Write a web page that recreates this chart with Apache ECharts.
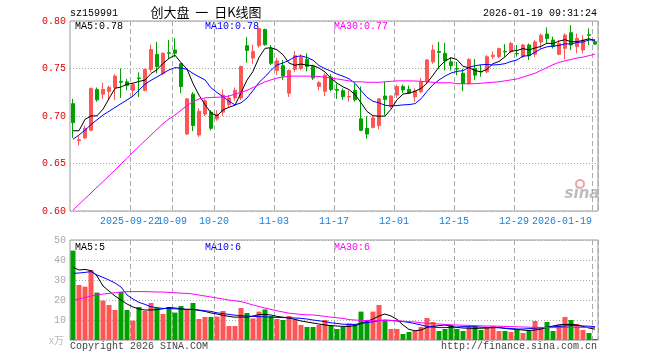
<!DOCTYPE html>
<html><head><meta charset="utf-8">
<script src="https://cdn.jsdelivr.net/npm/echarts@6/dist/echarts.min.js"></script>
<style>html,body{margin:0;padding:0;background:#fff}#c{width:660px;height:360px}</style>
</head><body><div id="c"></div>
<script>
// ---------------- data ----------------
const dates = [
'2025-09-08','2025-09-09','2025-09-10','2025-09-11','2025-09-12','2025-09-15','2025-09-16','2025-09-17','2025-09-18','2025-09-19',
'2025-09-22','2025-09-23','2025-09-24','2025-09-25','2025-09-26','2025-09-29','2025-09-30','2025-10-09','2025-10-10','2025-10-13',
'2025-10-14','2025-10-15','2025-10-16','2025-10-17','2025-10-20','2025-10-21','2025-10-22','2025-10-23','2025-10-24','2025-10-27',
'2025-10-28','2025-10-29','2025-10-30','2025-10-31','2025-11-03','2025-11-04','2025-11-05','2025-11-06','2025-11-07','2025-11-10',
'2025-11-11','2025-11-12','2025-11-13','2025-11-14','2025-11-17','2025-11-18','2025-11-19','2025-11-20','2025-11-21','2025-11-24',
'2025-11-25','2025-11-26','2025-11-27','2025-11-28','2025-12-01','2025-12-02','2025-12-03','2025-12-04','2025-12-05','2025-12-08',
'2025-12-09','2025-12-10','2025-12-11','2025-12-12','2025-12-15','2025-12-16','2025-12-17','2025-12-18','2025-12-19','2025-12-22',
'2025-12-23','2025-12-24','2025-12-25','2025-12-26','2025-12-29','2025-12-30','2025-12-31','2026-01-05','2026-01-06','2026-01-07',
'2026-01-08','2026-01-09','2026-01-12','2026-01-13','2026-01-14','2026-01-15','2026-01-16','2026-01-19'];

const openP = [
0.713,0.674,0.677,0.685,0.728,0.723,0.726,0.730,0.7365,0.736,
0.727,0.740,0.727,0.749,0.765,0.745,0.7665,0.7695,0.755,0.681,
0.723,0.680,0.702,0.704,0.697,0.704,0.712,0.719,0.719,0.774,
0.761,0.774,0.791,0.771,0.748,0.753,0.724,0.749,0.750,0.7596,
0.752,0.731,0.726,0.741,0.728,0.7266,0.720,0.727,0.697,0.687,
0.688,0.690,0.721,0.710,0.722,0.731,0.728,0.720,0.7256,0.736,
0.757,0.768,0.766,0.757,0.750,0.745,0.734,0.750,0.7468,0.7466,
0.7624,0.7624,0.768,0.7677,0.766,0.7624,0.7747,0.765,0.778,0.7863,
0.780,0.765,0.7712,0.7877,0.773,0.7694,0.7855,0.7782];
const closeP = [
0.693,0.675,0.687,0.729,0.717,0.728,0.730,0.742,0.7355,0.732,
0.733,0.7395,0.749,0.770,0.752,0.766,0.766,0.766,0.731,0.718,
0.690,0.705,0.716,0.687,0.702,0.722,0.719,0.727,0.752,0.769,
0.768,0.792,0.775,0.7555,0.758,0.742,0.748,0.7635,0.762,0.752,
0.740,0.735,0.743,0.728,0.727,0.7203,0.7205,0.717,0.685,0.681,
0.698,0.718,0.7175,0.721,0.731,0.7275,0.724,0.7265,0.736,0.759,
0.7695,0.767,0.758,0.753,0.7494,0.734,0.7596,0.743,0.7464,0.7624,
0.764,0.771,0.7675,0.7764,0.7655,0.7747,0.7635,0.778,0.785,0.7817,
0.773,0.7764,0.7852,0.7747,0.7817,0.780,0.785,0.7757];
const lowP = [
0.677,0.669,0.676,0.684,0.715,0.718,0.717,0.717,0.719,0.727,
0.720,0.720,0.726,0.746,0.745,0.743,0.760,0.762,0.724,0.680,
0.684,0.678,0.700,0.685,0.695,0.700,0.709,0.716,0.717,0.756,
0.755,0.772,0.774,0.7536,0.743,0.738,0.720,0.7466,0.748,0.747,
0.738,0.727,0.721,0.726,0.718,0.717,0.715,0.715,0.684,0.676,
0.687,0.686,0.701,0.708,0.719,0.724,0.723,0.715,0.724,0.734,
0.755,0.750,0.748,0.748,0.743,0.726,0.733,0.738,0.7413,0.745,
0.760,0.761,0.7624,0.766,0.7624,0.761,0.759,0.762,0.771,0.7757,
0.771,0.764,0.7596,0.7694,0.766,0.766,0.7747,0.7747];
const highP = [
0.718,0.679,0.690,0.730,0.730,0.735,0.732,0.744,0.750,0.739,
0.735,0.746,0.750,0.775,0.778,0.767,0.780,0.782,0.756,0.719,
0.725,0.708,0.718,0.706,0.706,0.728,0.722,0.730,0.753,0.783,
0.775,0.793,0.792,0.7747,0.761,0.759,0.749,0.7684,0.765,0.766,
0.754,0.737,0.745,0.744,0.734,0.729,0.727,0.734,0.731,0.700,
0.700,0.719,0.736,0.722,0.733,0.733,0.732,0.729,0.740,0.760,
0.775,0.778,0.777,0.762,0.757,0.750,0.761,0.760,0.7536,0.764,
0.768,0.772,0.7757,0.778,0.7747,0.776,0.7764,0.780,0.787,0.7933,
0.7835,0.780,0.787,0.7957,0.787,0.785,0.7922,0.7807];

const ma5 = [
0.6845,0.6845,0.6965,0.700,0.7002,0.7072,0.7182,0.7292,0.7305,0.7335,
0.7345,0.7364,0.7378,0.7447,0.7487,0.7553,0.7606,0.764,0.7562,0.7494,
0.7342,0.722,0.712,0.7032,0.700,0.7064,0.7092,0.7114,0.7244,0.7378,
0.747,0.7616,0.7712,0.7719,0.7697,0.7645,0.7557,0.7534,0.7547,0.7535,
0.7531,0.7505,0.7464,0.7396,0.7346,0.7307,0.7278,0.7226,0.714,0.7048,
0.7003,0.6998,0.6999,0.7071,0.7171,0.723,0.7242,0.726,0.729,0.7346,
0.743,0.7516,0.7579,0.7613,0.7594,0.7523,0.7508,0.7478,0.7465,0.7491,
0.7551,0.7574,0.7623,0.7683,0.7689,0.771,0.7695,0.7716,0.7733,0.7766,
0.7762,0.7788,0.7803,0.7782,0.7782,0.7796,0.7813,0.7794];
const ma10 = [
0.6755,0.680,0.685,0.691,0.696,0.701,0.705,0.709,0.713,0.7169,
0.7209,0.7273,0.7335,0.7376,0.7411,0.7449,0.7485,0.7509,0.7505,0.7491,
0.7448,0.7413,0.738,0.7297,0.7247,0.7203,0.7156,0.7117,0.7138,0.7189,
0.7267,0.7354,0.7413,0.7482,0.7538,0.7558,0.7587,0.7623,0.7633,0.7616,
0.7588,0.7531,0.7499,0.7472,0.7441,0.7419,0.7392,0.7345,0.7268,0.7197,
0.7155,0.7138,0.7113,0.7106,0.711,0.7117,0.712,0.713,0.7181,0.7259,
0.733,0.7379,0.742,0.7452,0.747,0.7477,0.7512,0.7529,0.7539,0.7543,
0.7537,0.7541,0.7551,0.7574,0.759,0.7631,0.7635,0.767,0.7708,0.7728,
0.7736,0.7742,0.776,0.7758,0.7774,0.7779,0.7801,0.7799];
const ma30 = [
0.601,0.607,0.613,0.619,0.625,0.631,0.637,0.643,0.6495,0.6555,
0.662,0.668,0.674,0.680,0.686,0.692,0.697,0.701,0.706,0.711,
0.715,0.718,0.719,0.7195,0.7198,0.720,0.721,0.723,0.725,0.727,
0.730,0.733,0.736,0.738,0.740,0.741,0.742,0.742,0.742,0.742,
0.742,0.7415,0.741,0.740,0.739,0.738,0.737,0.736,0.736,0.7355,
0.7355,0.7355,0.736,0.7365,0.737,0.737,0.737,0.7368,0.7365,0.736,
0.7355,0.735,0.735,0.735,0.734,0.734,0.734,0.734,0.7345,0.735,
0.7355,0.736,0.737,0.738,0.739,0.741,0.743,0.745,0.748,0.751,
0.754,0.7565,0.758,0.7595,0.761,0.762,0.7635,0.765];

const volume = [
44.7,27.5,26.7,35,23.7,19.7,17.5,15,24,15,
9.7,16.5,14.5,18.5,16.2,13,16.5,13.7,17,15.3,
18.5,10.5,11.5,11.5,11.7,14.5,7,7,16,13.5,
10.8,14.2,15.3,12,10.5,10,12,10.3,7.5,6.5,
6.5,7.5,10,7.2,5.5,6.5,8.3,7.8,14.2,9.7,
14.2,17.5,9.8,5.5,5.5,3,4,4.5,6.5,11,
9,4.5,5.5,7.5,5.5,4.5,6.5,7,5,6.5,
7,4.5,4.5,4,5,3.5,4.5,9.5,6.5,9,
4.5,7.5,11.5,10,8,5,3.5,0.5];
const volMa5 = [
36.3,35,35.3,34.7,32,27,24.5,22,20,18,
16.5,15.5,15,15,15.2,15.6,16.2,16,15.6,15.3,
15.3,14.8,14.3,13.5,13,12.3,11.8,11.4,11.5,11.4,
12,12.7,12.8,12.5,11.8,11.4,11,10.3,9.5,9,
8.5,8,7.5,7.2,7,6.8,6.8,7.2,8.2,9.3,
10.5,12,13,12,10.3,7.5,5.3,4.6,5,6.3,
6.8,7.2,7.5,6.8,6.3,6,5.9,5.8,5.9,6,
6.2,6.3,5.8,5.5,5.3,5,4.7,5,5.5,6.3,
7,7.6,7.8,7.8,7.5,6.8,6,5.4];
const volMa10 = [
33.3,33.5,33.8,34.2,32.5,31.3,30,28.5,26.5,22.5,
20.5,18.8,17.8,16.6,16.1,15.8,15.7,15.6,15.4,15.3,
15.3,15,14.6,14.3,13.6,13.2,12.8,12.4,12.2,12,
11.8,11.7,11.6,11.4,11.3,11.2,11.1,11,10.8,10.5,
10,9.6,9.2,8.6,8.3,7.9,7.8,7.8,8.3,8.7,
9.1,9.7,10,9.8,9.5,9.2,8.8,8.2,7.5,6.8,
6.5,6.2,6.2,6.3,6.5,6.7,6.7,6.6,6.4,6.3,
6.2,6.1,5.9,5.7,5.5,5.5,5.7,5.9,6.1,6.4,
6.6,6.8,7,7.2,7.2,7,6.9,6.7];
const volMa30 = [
20,20.5,21.2,22,22.5,23,23.3,23.6,24,24.2,
24.2,24.2,24.2,24.1,24,24,23.8,23.6,23.4,23.3,
23,22.5,22,21.5,21,20.5,20,19.6,19.2,18.4,
17.5,16.7,16,15.3,14.6,14,13.4,13.1,12.8,12.6,
12.5,12.2,11.8,11.4,11.1,10.8,10.2,10,9.8,9.7,
9.7,9.7,9.7,9.7,9.6,9.4,9.2,9,8.6,8.4,
8.2,8,7.8,7.6,7.5,7.4,7.3,7.2,7.1,7,
7,6.9,6.8,6.7,6.6,6.5,6.4,6.3,6.3,6.2,
6.2,6.2,6.3,6.3,6.3,6.3,6.3,6.3];

const tickDates  = ['2025-09-22','2025-10-09','2025-10-20','2025-11-03','2025-11-17','2025-12-01','2025-12-15','2025-12-29','2026-01-19'];
const tickLabels = ['2025-09-22','10-09','10-20','11-03','11-17','12-01','12-15','12-29','2026-01-19'];
const priceTicks = [0.60, 0.65, 0.70, 0.75, 0.80];
const volTicks = [10, 20, 30, 40, 50];

// ---------------- chart ----------------
const UP = '#ff5555', DOWN = '#00a000';
const MONO = 'Liberation Mono, DejaVu Sans Mono, monospace';
const chart = echarts.init(document.getElementById('c'), null, {renderer: 'canvas'});

const candle = dates.map((d, i) => [openP[i], closeP[i], lowP[i], highP[i]]);
const volData = volume.map((v, i) => ({value: v, itemStyle: {color: closeP[i] >= openP[i] ? UP : DOWN}}));
const isTick = (i, v) => tickDates.indexOf(v) >= 0;
// labels are split over two axes (alternating) so neighbouring labels never get hidden as overlapping
const isTickParity = (p) => (i, v) => { const k = tickDates.indexOf(v); return k >= 0 && k % 2 === p; };

const richLabels = {
  n: {color: '#1b7fd6', fontFamily: MONO, fontSize: 10, padding: [0, 6, 0, 0]},
  e: {color: '#1b7fd6', fontFamily: MONO, fontSize: 10, padding: [0, 66, 0, 0]}
};
const fmtLabel = (v) => {
  const t = tickLabels[tickDates.indexOf(v)];
  return v === dates[dates.length - 1] ? '{e|' + t + '}' : '{n|' + t + '}';
};

function xAxis(gridIndex, opts) {
  return Object.assign({
    type: 'category', gridIndex, data: dates, boundaryGap: true, position: 'bottom',
    axisLine: {show: false}, axisTick: {show: false},
    axisLabel: {show: false},
    splitLine: {show: false}
  }, opts);
}
const labelCfg = (p) => ({show: true, interval: isTickParity(p), margin: 5, hideOverlap: false,
  formatter: fmtLabel, rich: richLabels});
const splitCfg = {show: true, interval: isTick, lineStyle: {color: '#aaa', type: [5, 3], width: 1}};

function lineSeries(data, color, xi, yi) {
  return {type: 'line', data, xAxisIndex: xi, yAxisIndex: yi, showSymbol: false, symbol: 'none',
    silent: true, lineStyle: {color, width: 1}, itemStyle: {color}, z: 3};
}

const txt = (text, x, y, fill, align, font) => ({
  type: 'text', x, y, silent: true,
  style: {text, fill, font: font || ('10px ' + MONO), align: align || 'left', textAlign: align || 'left',
    verticalAlign: 'middle', textVerticalAlign: 'middle'}
});
const last = dates.length - 1;

chart.setOption({
  animation: false,
  backgroundColor: '#fff',
  grid: [
    {left: 70, top: 21, width: 528, height: 190, show: true, borderColor: '#999', borderWidth: 1, outerBoundsMode: 'none'},
    {left: 70, top: 240, width: 528, height: 100, show: true, borderColor: '#999', borderWidth: 1, outerBoundsMode: 'none'}
  ],
  xAxis: [
    xAxis(0, {axisLabel: labelCfg(0), splitLine: splitCfg}),
    xAxis(1, {splitLine: splitCfg}),
    xAxis(0, {axisLabel: labelCfg(1)})
  ],
  yAxis: [
    {type: 'value', gridIndex: 0, min: priceTicks[0], max: priceTicks[priceTicks.length - 1], interval: 0.05,
      axisLine: {show: false}, axisTick: {show: false},
      axisLabel: {color: '#e00000', fontFamily: MONO, fontSize: 10, margin: 4, formatter: v => v.toFixed(2)},
      splitLine: {show: true, lineStyle: {color: '#aaa', type: [1, 2], width: 1}}},
    {type: 'value', gridIndex: 1, min: 0, max: volTicks[volTicks.length - 1], interval: 10,
      axisLine: {show: false}, axisTick: {show: false},
      axisLabel: {color: '#aaa', fontFamily: MONO, fontSize: 10, margin: 4, formatter: v => (v === 0 ? '' : String(v))},
      splitLine: {show: true, lineStyle: {color: '#aaa', type: [1, 2], width: 1}}}
  ],
  series: [
    {type: 'candlestick', xAxisIndex: 0, yAxisIndex: 0, data: candle, barWidth: 4, silent: true,
      itemStyle: {color: UP, color0: DOWN, borderColor: UP, borderColor0: DOWN, borderWidth: 1}, z: 2},
    lineSeries(ma5, '#000000', 0, 0),
    lineSeries(ma10, '#0000ff', 0, 0),
    lineSeries(ma30, '#ff00ff', 0, 0),
    {type: 'bar', xAxisIndex: 1, yAxisIndex: 1, data: volData, barWidth: 5, silent: true, z: 2},
    lineSeries(volMa5, '#000000', 1, 1),
    lineSeries(volMa10, '#0000ff', 1, 1),
    lineSeries(volMa30, '#ff00ff', 1, 1)
  ],
  graphic: [
    txt('sz159991', 70, 13, '#000'),
    txt('创大盘  一  日K线图', 206, 12, '#000', 'center', '13px "Noto Sans CJK SC", sans-serif'),
    txt('2026-01-19 09:31:24', 597, 13, '#000', 'right'),
    txt('MA5:' + ma5[last].toFixed(2), 75, 26, '#000'),
    txt('MA10:' + ma10[last].toFixed(2), 205, 26, '#0000ff'),
    txt('MA30:' + ma30[last].toFixed(2), 334, 26, '#ff00ff'),
    txt('MA5:' + Math.floor(volMa5[last]), 75, 247, '#000'),
    txt('MA10:' + Math.floor(volMa10[last]), 205, 247, '#0000ff'),
    txt('MA30:' + Math.floor(volMa30[last]), 334, 247, '#ff00ff'),
    txt('x万', 64, 340, '#bbb', 'right', '10px "Noto Sans CJK SC", sans-serif'),
    txt('Copyright 2026 SINA.COM', 70, 346, '#444'),
    txt('http://finance.sina.com.cn', 597, 346, '#444', 'right'),
    {type: 'circle', shape: {cx: 580, cy: 184, r: 4}, silent: true,
      style: {fill: 'none', stroke: '#f3a0a0', lineWidth: 2}},
    txt('sina', 582, 194, '#bdbdbd', 'center', 'italic bold 15px "DejaVu Sans", sans-serif')
  ]
});
</script></body></html>
